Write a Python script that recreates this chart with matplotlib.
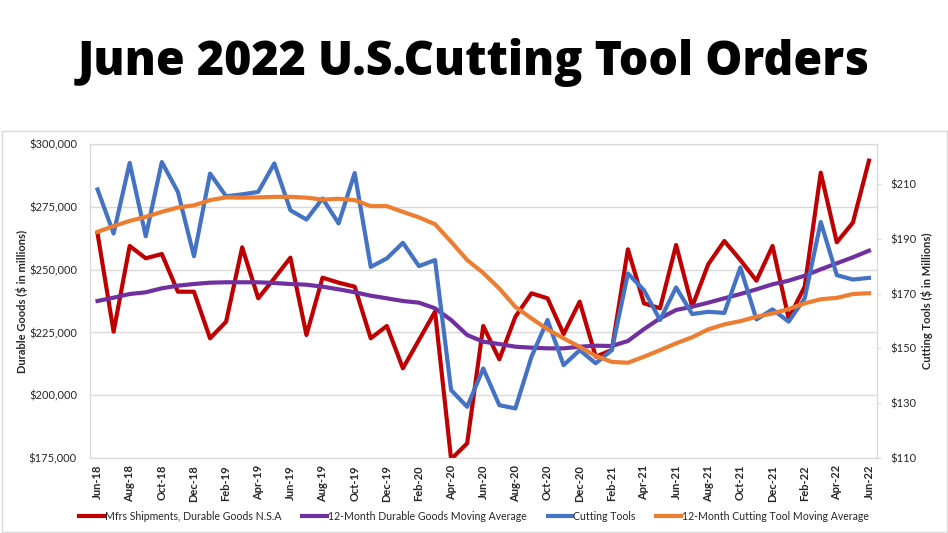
import pandas as pd
import matplotlib.pyplot as plt
from matplotlib.patches import Rectangle

# monthly data, Jun-18 .. Jun-22
months = pd.date_range("2018-06-01", "2022-06-01", freq="MS").strftime("%b-%y").tolist()

durable_goods = [264450, 225280, 259400, 254500, 256200, 241200, 241200, 222650, 229260,
                 258880, 238570, 246540, 254740, 223960, 246780, 244790, 243200,
                 222650, 227550, 210700, 221980, 233250, 174500, 180850, 227550,
                 214290, 231250, 240560, 238570, 224360, 237230, 215330, 218000, 258080,
                 236580, 234590, 259800, 235250, 252110, 261390, 253820, 245590,
                 259400, 230610, 243200, 288580, 260870, 268680, 293360]

durable_ma = [237500, 238820, 240290, 240960, 242550, 243600, 244270, 244790, 244950,
              244950, 244950, 244670, 244270, 243990, 243200, 242150, 241000,
              239600, 238570, 237500, 236840, 234590, 229940, 223960, 221300,
              220380, 219310, 218910, 218650, 218650, 219310, 219710, 219580, 221580,
              226300, 230610, 233920, 235250, 236840, 238570, 240290, 242150,
              244150, 245590, 247580, 250120, 252510, 254900, 257530]

cutting_tools = [208.1, 192.0, 217.8, 191.0, 218.1, 207.2, 183.7, 213.9, 205.6,
                 206.3, 207.2, 217.6, 200.5, 197.1, 204.8, 195.7, 214.1,
                 179.8, 182.9, 188.6, 180.1, 182.3, 134.8, 128.7, 142.7,
                 129.3, 128.1, 147.0, 160.4, 143.9, 149.4, 144.6, 149.4, 177.4,
                 171.3, 160.4, 172.3, 162.6, 163.4, 163.0, 179.6, 160.6,
                 164.3, 159.8, 168.3, 196.2, 176.8, 175.2, 175.8]

cutting_ma = [192.6, 194.7, 196.6, 198.1, 199.9, 201.5, 202.3, 204.2, 205.2,
              205.1, 205.2, 205.4, 205.4, 205.1, 204.4, 204.7, 204.2,
              202.0, 202.0, 199.9, 197.9, 195.4, 189.0, 182.3, 177.6,
              171.9, 165.2, 161.0, 157.0, 153.7, 150.6, 147.3, 145.1, 144.8,
              147.0, 149.4, 151.9, 154.1, 157.0, 158.8, 160.0, 161.6,
              162.8, 164.4, 166.5, 168.0, 168.5, 169.9, 170.2]

left_ticks = [175000, 200000, 225000, 250000, 275000, 300000]
right_ticks = [110, 130, 150, 170, 190, 210]

plt.rcParams['font.family'] = ['Lato', 'DejaVu Sans']
txt = '#262626'
grid = '#d9d9d9'

fig = plt.figure(figsize=(9.48, 5.33), dpi=100)
W, H = 948, 533

# chart frame
fig.patches.append(Rectangle((2 / W, 1 / H), 945 / W, 401 / H, transform=fig.transFigure,
                             fill=False, edgecolor=grid, lw=1))

fig.text(0.5, (H - 75) / H, "June 2022 U.S.Cutting Tool Orders", ha='center', va='baseline',
         fontsize=33.5, fontweight='heavy', family=['Open Sans', 'DejaVu Sans'])

ax = fig.add_axes([89.5 / W, (H - 458) / H, (877 - 89.5) / W, (458 - 144) / H])
ax2 = ax.twinx()

x = list(range(len(months)))
l1, = ax.plot(x, durable_goods, color='#c00000', lw=3, solid_joinstyle='round')
l2, = ax.plot(x, durable_ma, color='#7030a0', lw=3)
l3, = ax2.plot(x, cutting_tools, color='#4472c4', lw=3, solid_joinstyle='round')
l4, = ax2.plot(x, cutting_ma, color='#ed7d31', lw=3)

ax.set_xlim(-0.5, len(months) - 0.5)
ax.set_ylim(175000, 300000)
ax2.set_ylim(110, 224.7)

ax.set_yticks(left_ticks)
ax.set_yticklabels([f"${v:,.0f}" for v in left_ticks])
ax2.set_yticks(right_ticks)
ax2.set_yticklabels([f"${v}" for v in right_ticks])
ax.set_xticks(x[::2])
ax.set_xticklabels(months[::2], rotation=90, fontweight='bold')

ax.grid(axis='y', color=grid, lw=1)
ax.set_axisbelow(True)
ax.tick_params(axis='y', length=0, pad=9, labelsize=8, labelcolor=txt)
ax.tick_params(axis='x', length=0, pad=5, labelsize=8, labelcolor=txt)
ax2.tick_params(axis='y', length=3, pad=7, labelsize=8, labelcolor=txt, color=grid)

for a in (ax, ax2):
    for s in a.spines.values():
        s.set_color(grid)

fig.text(22 / W, (H - 301) / H, "Durable Goods ($ in millions)", rotation=90, ha='center',
         va='center', fontsize=8, fontweight='bold', color=txt)
fig.text(927 / W, (H - 301) / H, "Cutting Tools ($ in Millions)", rotation=90, ha='center',
         va='center', fontsize=8, fontweight='bold', color=txt)

fig.legend([l1, l2, l3, l4],
           ["Mfrs Shipments, Durable Goods N.S.A", "12-Month Durable Goods Moving Average",
            "Cutting Tools", "12-Month Cutting Tool Moving Average"],
           loc='center', bbox_to_anchor=(0.5, (H - 516.5) / H), ncol=4, frameon=False,
           fontsize=7.6, handlelength=2.3, handletextpad=0.1, columnspacing=2.0,
           labelcolor=txt)

fig.savefig("out.png", dpi=100)
